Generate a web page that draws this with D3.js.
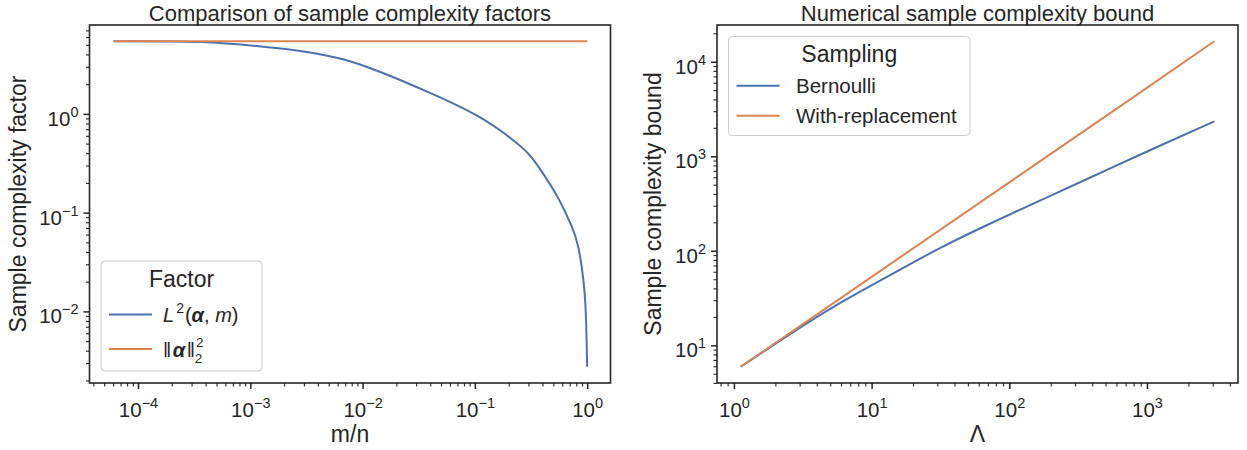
<!DOCTYPE html>
<html>
<head>
<meta charset="utf-8">
<script src="https://cdn.jsdelivr.net/npm/d3@7"></script>
<style>
    body { margin: 0; background: #fff; }
    svg text { font-family: "Liberation Sans", Arial, sans-serif; fill: #262626; }
</style>
</head>
<body>
<div id="chart"></div>
<script>
// left panel: sample complexity factors against m/n
var ratioValues = [6.05e-5, 4.1e-4, 1.21e-3, 2.39e-3, 6.27e-3, 0.0109, 0.0215, 0.0347, 0.111,
    0.252, 0.317, 0.475, 0.558, 0.741, 0.836, 0.944, 0.98, 0.9999];
var l2Values = [5.44, 5.44, 4.84, 4.48, 3.71, 3.01, 2.22, 1.75, 0.977,
    0.484, 0.38, 0.19, 0.14, 0.0714, 0.0484, 0.019, 0.009, 0.00275];
var normRatio = [6.05e-5, 1.0];
var normValues = [5.44, 5.44];

// right panel: sample complexity bound against Lambda
var lambdaValues = [1.12, 2.0, 3.0, 5.26, 10, 17.9, 24.4, 31.3, 60, 149, 400, 888, 3083];
var bernoulliValues = [5.93, 10.4, 15.3, 25.7, 43, 69, 88, 107, 171, 316, 607, 1042, 2345];
var withRepLambda = [1.12, 10, 100, 1000, 3083];
var withRepValues = [5.93, 53, 530, 5300, 16480];

var panelTitles = ['Comparison of sample complexity factors', 'Numerical sample complexity bound'];
var xLabels = ['m/n', '\u039b'];
var yLabels = ['Sample complexity factor', 'Sample complexity bound'];
var legendTitles = ['Factor', 'Sampling'];
var samplingNames = ['Bernoulli', 'With-replacement'];

(function () {
    "use strict";

    var W = 1247, H = 450,
        top = 25, bottom = 383,
        ink = '#262626',
        blue = '#4C72B0',
        orange = '#DD8452',
        math = '"DejaVu Sans", sans-serif';

    var svg = d3.select('#chart').append('svg').attr('width', W).attr('height', H);

    // majors at powers of ten, minors at 2..9 inside the log domain
    function logTicks(lo, hi) {
        var major = [], minor = [];
        for (var e = Math.floor(lo); e <= Math.ceil(hi); e++) {
            for (var k = 1; k < 10; k++) {
                var v = k * Math.pow(10, e), lv = Math.log10(v);
                if (lv < lo - 1e-9 || lv > hi + 1e-9) continue;
                (k === 1 ? major : minor).push(v);
            }
        }
        return {major: major, minor: minor};
    }

    function expLabel(sel) {
        sel.each(function (d) {
            var e = Math.round(Math.log10(d)),
                t = d3.select(this).text(null);
            t.append('tspan').text('10');
            t.append('tspan').attr('dy', -9).attr('font-size', 14.5)
                .text(e < 0 ? '\u2212' + (-e) : String(e));
        });
    }

    function panel(opt) {
        var iw = opt.width, ih = bottom - top;
        var g = svg.append('g').attr('transform', 'translate(' + opt.left + ',' + top + ')');
        var x = d3.scaleLog().domain([Math.pow(10, opt.xd[0]), Math.pow(10, opt.xd[1])]).range([0, iw]);
        var y = d3.scaleLog().domain([Math.pow(10, opt.yd[0]), Math.pow(10, opt.yd[1])]).range([ih, 0]);
        var xt = logTicks(opt.xd[0], opt.xd[1]),
            yt = logTicks(opt.yd[0], opt.yd[1]);

        g.append('g').attr('class', 'minor').attr('transform', 'translate(0,' + ih + ')')
            .call(d3.axisBottom(x).tickValues(xt.minor).tickSize(3.5).tickFormat(''));
        g.append('g').attr('class', 'major').attr('transform', 'translate(0,' + ih + ')')
            .call(d3.axisBottom(x).tickValues(xt.major).tickSize(6))
            .selectAll('text').attr('y', 34).attr('dy', null).call(expLabel);

        g.append('g').attr('class', 'minor')
            .call(d3.axisLeft(y).tickValues(yt.minor).tickSize(3.5).tickFormat(''));
        g.append('g').attr('class', 'major')
            .call(d3.axisLeft(y).tickValues(yt.major).tickSize(6))
            .selectAll('text').attr('x', -11).attr('y', 11.5).attr('dy', null).call(expLabel);

        g.selectAll('.domain').remove();
        g.selectAll('.tick line').attr('stroke', ink);
        g.selectAll('.minor .tick line').attr('stroke-width', 1.1);
        g.selectAll('.major .tick line').attr('stroke-width', 1.5);
        g.selectAll('.tick text').attr('fill', ink).attr('font-size', 20.5)
            .attr('font-family', '"Liberation Sans", Arial, sans-serif');

        g.append('rect').attr('width', iw).attr('height', ih)
            .attr('fill', 'none').attr('stroke', ink).attr('stroke-width', 1.6);

        // title and axis labels
        svg.append('text').attr('x', opt.left + iw / 2).attr('y', 20.5)
            .attr('text-anchor', 'middle').attr('font-size', 22).text(opt.title);
        svg.append('text').attr('x', opt.left + iw / 2).attr('y', 442)
            .attr('text-anchor', 'middle').attr('font-size', 23).text(opt.xLabel);
        svg.append('text').attr('transform', 'translate(' + opt.yLabelX + ',' + (top + ih / 2) + ') rotate(-90)')
            .attr('text-anchor', 'middle').attr('font-size', 23).text(opt.yLabel);

        return {g: g, x: x, y: y};
    }

    function drawLine(p, xs, ys, color) {
        var line = d3.line()
            .x(function (d) { return p.x(d[0]); })
            .y(function (d) { return p.y(d[1]); })
            .curve(d3.curveBasis);
        p.g.append('path').datum(d3.zip(xs, ys))
            .attr('d', line).attr('fill', 'none')
            .attr('stroke', color).attr('stroke-width', 2);
    }

    function legendBox(x0, y0, w, h, title, titleY) {
        var lg = svg.append('g');
        lg.append('rect').attr('x', x0).attr('y', y0).attr('width', w).attr('height', h)
            .attr('rx', 4).attr('fill', '#fff').attr('fill-opacity', 0.8)
            .attr('stroke', '#cccccc').attr('stroke-width', 1);
        lg.append('text').attr('x', x0 + w / 2).attr('y', titleY)
            .attr('text-anchor', 'middle').attr('font-size', 23).text(title);
        return lg;
    }

    // left panel
    var left = panel({
        left: 89.5, width: 521, xd: [-4.432, 0.208], yd: [-2.725, 0.9],
        title: panelTitles[0], xLabel: xLabels[0], yLabel: yLabels[0], yLabelX: 26
    });
    drawLine(left, ratioValues, l2Values, blue);
    drawLine(left, normRatio, normValues, orange);

    var lg1 = legendBox(101, 261, 161, 110, legendTitles[0], 287);
    [[314.5, blue], [349, orange]].forEach(function (e) {
        lg1.append('line').attr('x1', 109).attr('x2', 152).attr('y1', e[0]).attr('y2', e[0])
            .attr('stroke', e[1]).attr('stroke-width', 2);
    });
    var t1 = lg1.append('text').attr('x', 163).attr('y', 321.5)
        .attr('font-family', math).attr('font-size', 20);
    t1.append('tspan').attr('font-style', 'italic').text('L');
    t1.append('tspan').attr('font-size', 14).attr('dy', -9).attr('dx', 2).text('2');
    t1.append('tspan').attr('dy', 9).attr('dx', 1).text('(');
    t1.append('tspan').attr('font-style', 'italic').attr('font-weight', 'bold').text('\u03b1');
    t1.append('tspan').text(', ');
    t1.append('tspan').attr('font-style', 'italic').text('m');
    t1.append('tspan').text(')');

    var t2 = lg1.append('text').attr('x', 163).attr('y', 356.5)
        .attr('font-family', math).attr('font-size', 20);
    t2.append('tspan').text('\u2016');
    t2.append('tspan').attr('dx', 1.5).attr('font-style', 'italic').attr('font-weight', 'bold').text('\u03b1');
    t2.append('tspan').attr('dx', 1.5).text('\u2016');
    t2.append('tspan').attr('font-size', 13.5).attr('dy', -10).attr('dx', 1).text('2');
    t2.append('tspan').attr('font-size', 13.5).attr('dy', 16).attr('dx', -8.6).text('2');

    // right panel
    var right = panel({
        left: 717, width: 521, xd: [-0.123, 3.661], yd: [0.601, 4.389],
        title: panelTitles[1], xLabel: xLabels[1], yLabel: yLabels[1], yLabelX: 661
    });
    drawLine(right, lambdaValues, bernoulliValues, blue);
    drawLine(right, withRepLambda, withRepValues, orange);

    var lg2 = legendBox(728.5, 36.5, 241.5, 99, legendTitles[1], 62);
    [[85.7, blue], [115.7, orange]].forEach(function (e, i) {
        lg2.append('line').attr('x1', 736.5).attr('x2', 779.6).attr('y1', e[0]).attr('y2', e[0])
            .attr('stroke', e[1]).attr('stroke-width', 2);
        lg2.append('text').attr('x', 796).attr('y', e[0] + 7.5)
            .attr('font-size', 20.5).text(samplingNames[i]);
    });
}());
</script>
</body>
</html>
